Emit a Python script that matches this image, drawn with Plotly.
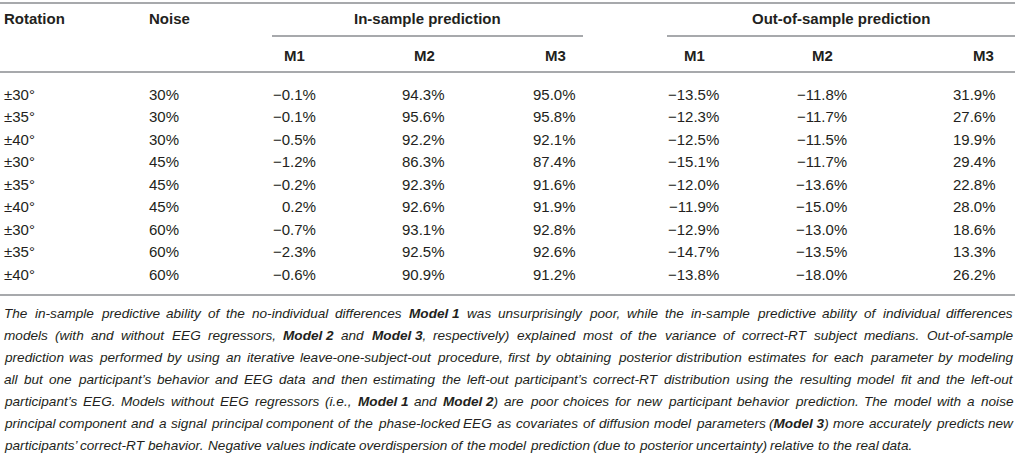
import plotly.graph_objects as go

# table values
rotations = ["±30°", "±35°", "±40°", "±30°", "±35°", "±40°", "±30°", "±35°", "±40°"]
noise_levels = ["30%", "30%", "30%", "45%", "45%", "45%", "60%", "60%", "60%"]
in_m1 = [-0.1, -0.1, -0.5, -1.2, -0.2, 0.2, -0.7, -2.3, -0.6]
in_m2 = [94.3, 95.6, 92.2, 86.3, 92.3, 92.6, 93.1, 92.5, 90.9]
in_m3 = [95.0, 95.8, 92.1, 87.4, 91.6, 91.9, 92.8, 92.6, 91.2]
out_m1 = [-13.5, -12.3, -12.5, -15.1, -12.0, -11.9, -12.9, -14.7, -13.8]
out_m2 = [-11.8, -11.7, -11.5, -11.7, -13.6, -15.0, -13.0, -13.5, -18.0]
out_m3 = [31.9, 27.6, 19.9, 29.4, 22.8, 28.0, 18.6, 13.3, 26.2]

col_headers = ["Rotation", "Noise"]
group_headers = ["In-sample prediction", "Out-of-sample prediction"]
model_labels = ["M1", "M2", "M3", "M1", "M2", "M3"]

# *...* marks the bold runs
caption_lines = [
    "The in-sample predictive ability of the no-individual differences *Model 1* was unsurprisingly poor, while the in-sample predictive ability of individual differences",
    "models (with and without EEG regressors, *Model 2* and *Model 3*, respectively) explained most of the variance of correct-RT subject medians. Out-of-sample",
    "prediction was performed by using an iterative leave-one-subject-out procedure, first by obtaining posterior distribution estimates for each parameter by modeling",
    "all but one participant’s behavior and EEG data and then estimating the left-out participant’s correct-RT distribution using the resulting model fit and the left-out",
    "participant’s EEG. Models without EEG regressors (i.e., *Model 1* and *Model 2*) are poor choices for new participant behavior prediction. The model with a noise",
    "principal component and a signal principal component of the phase-locked EEG as covariates of diffusion model parameters (*Model 3*) more accurately predicts new",
    "participants’ correct-RT behavior. Negative values indicate overdispersion of the model prediction (due to posterior uncertainty) relative to the real data.",
]

FONT = "Liberation Sans, Arial, sans-serif"
TXT = "#231f20"
RULE = "#a7a9ac"
W, H = 1015, 454
TABLE_SIZE = 15
CAP_SIZE = 13.6

# Arial / Liberation Sans advance widths (1/1000 em), used to justify the caption
_reg = {" ": 278, ",": 278, ".": 278, "-": 333, "(": 333, ")": 333, "’": 222, "'": 191, ":": 278}
_reg.update({d: 556 for d in "0123456789"})
_reg.update(dict(zip("ABCDEFGHIJKLMNOPQRSTUVWXYZ",
                     [667, 667, 722, 722, 667, 611, 778, 722, 278, 500, 667, 556, 833,
                      722, 778, 667, 778, 722, 667, 611, 722, 667, 944, 667, 667, 611])))
_reg.update(dict(zip("abcdefghijklmnopqrstuvwxyz",
                     [556, 556, 500, 556, 556, 278, 556, 556, 222, 222, 500, 222, 833,
                      556, 556, 556, 556, 333, 500, 278, 556, 500, 722, 500, 500, 500])))
_bold = dict(_reg)
_bold.update({"M": 833, "o": 611, "d": 611, "e": 556, "l": 278, ")": 333, "(": 333, ",": 278})


def fmt(v):
    return ("%.1f%%" % v).replace("-", "\u2212")


def parse_words(line):
    words, cur, bold = [], [], False
    for ch in line:
        if ch == "*":
            bold = not bold
        elif ch == " " and not bold:
            if cur:
                words.append(cur)
            cur = []
        else:
            if cur and cur[-1][0] == bold:
                cur[-1][1] += ch
            else:
                cur.append([bold, ch])
    if cur:
        words.append(cur)
    return words


def word_width(word, size):
    total = 0
    for b, t in word:
        table = _bold if b else _reg
        total += sum(table.get(c, 556) for c in t)
    return total * size / 1000.0


def word_html(word):
    return "<i>" + "".join("<b>%s</b>" % t if b else t for b, t in word) + "</i>"


fig = go.Figure()
fig.add_trace(go.Scatter(x=[0, W], y=[0, H], mode="markers",
                         marker=dict(opacity=0), hoverinfo="skip"))

annotations = []


def put(x, y, text, anchor="left", size=TABLE_SIZE, bold=False):
    annotations.append(dict(
        x=x, y=y, xref="x", yref="y", text="<b>%s</b>" % text if bold else text,
        showarrow=False, xanchor=anchor, yanchor="middle", borderpad=0,
        font=dict(family=FONT, size=size, color=TXT)))


# header
head_y1, head_y2 = 18, 55
put(3, head_y1, col_headers[0], bold=True)
put(148, head_y1, col_headers[1], bold=True)
put(427, head_y1, group_headers[0], "center", bold=True)
put(841, head_y1, group_headers[1], "center", bold=True)
header_x = [294, 424, 555, 694, 822, 983]
for x, lab in zip(header_x, model_labels):
    put(x, head_y2, lab, "center", bold=True)

# body
row0, row_h = 94, 22.5
value_right = [317, 446, 577, 720, 848, 997]
columns = [in_m1, in_m2, in_m3, out_m1, out_m2, out_m3]
for i in range(len(rotations)):
    y = row0 + i * row_h
    put(3, y, rotations[i])
    put(148, y, noise_levels[i])
    for x, col in zip(value_right, columns):
        put(x, y, fmt(col[i]), "right")

# rules
shapes = []
for x0, x1, y in [(0, W, 3), (272, 583, 36), (667, W, 36), (0, W, 72), (0, W, 295)]:
    shapes.append(dict(type="line", xref="x", yref="y", x0=x0, x1=x1, y0=y, y1=y,
                       line=dict(color=RULE, width=2)))

# caption, justified line by line
cap_y0, cap_h = 313, 22
left, right = 3, 1012
for k, line in enumerate(caption_lines):
    words = parse_words(line)
    widths = [word_width(w, CAP_SIZE) for w in words]
    if k == len(caption_lines) - 1:
        gap = _reg[" "] * CAP_SIZE / 1000.0
    else:
        gap = (right - left - sum(widths)) / (len(words) - 1)
    x = left
    for w, ww in zip(words, widths):
        put(x, cap_y0 + k * cap_h, word_html(w), "left", size=CAP_SIZE)
        x += ww + gap

fig.update_layout(
    width=W, height=H,
    margin=dict(l=0, r=0, t=0, b=0),
    paper_bgcolor="white", plot_bgcolor="white",
    showlegend=False,
    xaxis=dict(range=[0, W], visible=False, fixedrange=True),
    yaxis=dict(range=[H, 0], visible=False, fixedrange=True),
    annotations=annotations,
    shapes=shapes,
)

# the page's default 8px body margin would push the table off the window
fig.write_html("out.html", config={"displayModeBar": False},
               post_script="document.body.style.margin = '0px';")
